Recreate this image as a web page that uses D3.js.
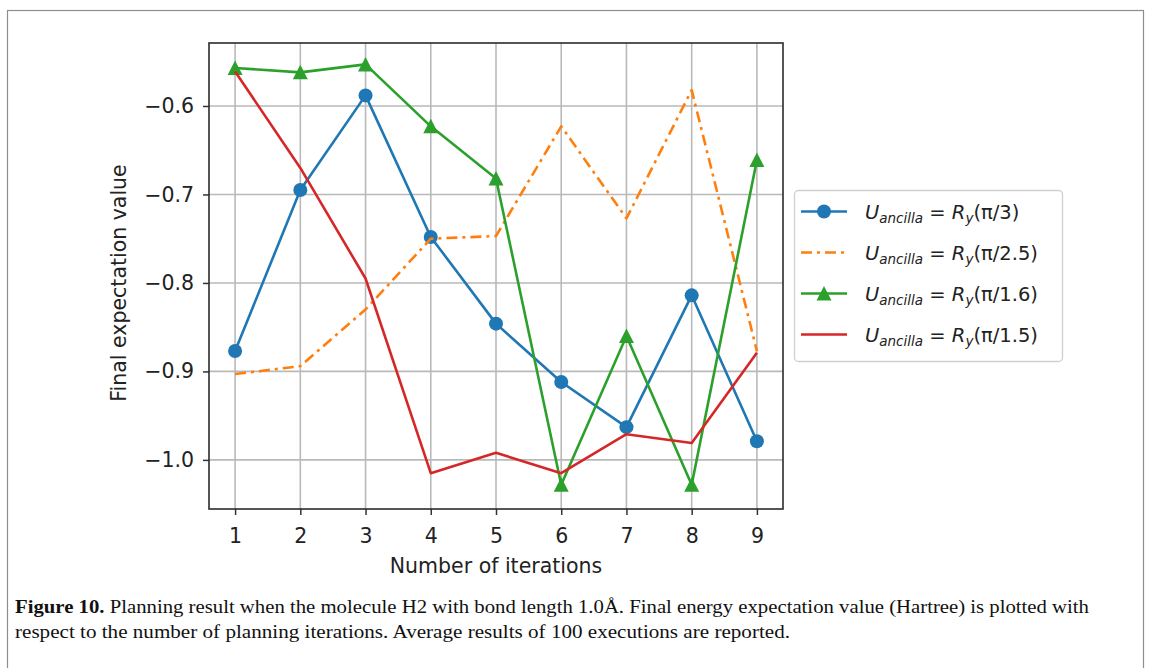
<!DOCTYPE html>
<html>
<head>
<meta charset="utf-8">
<script src="https://cdn.jsdelivr.net/npm/d3@7"></script>
<style>
  html, body { margin: 0; padding: 0; background: #fff; }
  svg { display: block; }
</style>
</head>
<body>
<svg width="1153" height="668"></svg>
<script>
// chart data
const iterations = [1, 2, 3, 4, 5, 6, 7, 8, 9];
const yTicks = [-0.6, -0.7, -0.8, -0.9, -1.0];
const ry3 = [-0.877, -0.695, -0.588, -0.748, -0.846, -0.912, -0.963, -0.814, -0.979];
const ry25 = [-0.903, -0.894, -0.830, -0.750, -0.747, -0.623, -0.727, -0.582, -0.877];
const ry16 = [-0.557, -0.562, -0.553, -0.623, -0.682, -1.028, -0.860, -1.028, -0.661];
const ry15 = [-0.561, -0.670, -0.795, -1.015, -0.992, -1.015, -0.971, -0.981, -0.879];
const seriesArgs = ["π/3", "π/2.5", "π/1.6", "π/1.5"];
const captionLines = [
  ["Figure 10.", " Planning result when the molecule H2 with bond length 1.0Å. Final energy expectation value (Hartree) is plotted with"],
  ["", "respect to the number of planning iterations. Average results of 100 executions are reported."]
];

const series = [
  { values: ry3, arg: seriesArgs[0], color: "#1f77b4", marker: "circle", dash: null },
  { values: ry25, arg: seriesArgs[1], color: "#ff7f0e", marker: null, dash: "11,5,3,5" },
  { values: ry16, arg: seriesArgs[2], color: "#2ca02c", marker: "triangle", dash: null },
  { values: ry15, arg: seriesArgs[3], color: "#d62728", marker: null, dash: null }
];

const svg = d3.select("svg"),
      width = +svg.attr("width"),
      height = +svg.attr("height");

const font = "'DejaVu Sans', sans-serif";
const plot = { left: 209, right: 783, top: 43, bottom: 509 };

svg.append("rect").attr("width", width).attr("height", height).attr("fill", "#fff");

// outer figure frame
svg.append("rect")
    .attr("x", 7.5).attr("y", 10.5)
    .attr("width", 1136).attr("height", 700)
    .attr("fill", "none")
    .attr("stroke", "#8e8e8e")
    .attr("stroke-width", 1.2);

const x = d3.scaleLinear().domain([0.6, 9.4]).range([plot.left, plot.right]);
const y = d3.scaleLinear().domain([-1.0555, -0.5288]).range([plot.bottom, plot.top]);

// grid
const grid = svg.append("g").attr("stroke", "#b9b9b9").attr("stroke-width", 1.6);
grid.selectAll(".gx").data(iterations).enter().append("line")
    .attr("x1", d => x(d)).attr("x2", d => x(d))
    .attr("y1", plot.top).attr("y2", plot.bottom);
grid.selectAll(".gy").data(yTicks).enter().append("line")
    .attr("x1", plot.left).attr("x2", plot.right)
    .attr("y1", d => y(d)).attr("y2", d => y(d));

// axes
const xAxis = svg.append("g")
    .attr("transform", `translate(0,${plot.bottom})`)
    .call(d3.axisBottom(x).tickValues(iterations).tickSize(6).tickPadding(13).tickFormat(d3.format("d")));
const yAxis = svg.append("g")
    .attr("transform", `translate(${plot.left},0)`)
    .call(d3.axisLeft(y).tickValues(yTicks).tickSize(6).tickPadding(9)
        .tickFormat(d => d3.format(".1f")(d).replace("-", "\u2212")));

[xAxis, yAxis].forEach(a => {
    a.select(".domain").remove();
    a.selectAll(".tick line").attr("stroke", "#333").attr("stroke-width", 1.5);
    a.selectAll(".tick text").attr("fill", "#222").style("font-family", font).style("font-size", "20.5px");
});

// series lines
const line = d3.line().x((d, i) => x(iterations[i])).y(d => y(d));
series.forEach(s => {
    svg.append("path")
        .datum(s.values)
        .attr("fill", "none")
        .attr("stroke", s.color)
        .attr("stroke-width", 2.6)
        .attr("stroke-linejoin", "round")
        .attr("stroke-dasharray", s.dash)
        .attr("d", line);

    if (s.marker === "circle") {
        svg.append("g").selectAll("circle").data(s.values).enter().append("circle")
            .attr("cx", (d, i) => x(iterations[i]))
            .attr("cy", d => y(d))
            .attr("r", 7)
            .attr("fill", s.color);
    } else if (s.marker === "triangle") {
        svg.append("g").selectAll("path").data(s.values).enter().append("path")
            .attr("transform", (d, i) => `translate(${x(iterations[i])},${y(d)})`)
            .attr("d", "M0,-7.5L7.5,7L-7.5,7Z")
            .attr("fill", s.color);
    }
});

// plot frame
svg.append("rect")
    .attr("x", plot.left).attr("y", plot.top)
    .attr("width", plot.right - plot.left).attr("height", plot.bottom - plot.top)
    .attr("fill", "none")
    .attr("stroke", "#2b2b2b")
    .attr("stroke-width", 1.6);

// axis labels
svg.append("text")
    .attr("x", (plot.left + plot.right) / 2).attr("y", 573)
    .attr("text-anchor", "middle")
    .attr("fill", "#222")
    .style("font-family", font).style("font-size", "20.5px")
    .text("Number of iterations");

svg.append("text")
    .attr("transform", "translate(126,283) rotate(-90)")
    .attr("text-anchor", "middle")
    .attr("fill", "#222")
    .style("font-family", font).style("font-size", "20.5px")
    .text("Final expectation value");

// legend
const legend = svg.append("g");
legend.append("rect")
    .attr("x", 794.5).attr("y", 190.5)
    .attr("width", 268).attr("height", 171)
    .attr("rx", 4)
    .attr("fill", "#fff")
    .attr("stroke", "#d0d0d0")
    .attr("stroke-width", 1.3);

series.forEach((s, i) => {
    const ly = 211.5 + i * 41;
    legend.append("line")
        .attr("x1", 801).attr("x2", 847)
        .attr("y1", ly).attr("y2", ly)
        .attr("stroke", s.color)
        .attr("stroke-width", 2.6)
        .attr("stroke-dasharray", s.dash);
    if (s.marker === "circle") {
        legend.append("circle").attr("cx", 824).attr("cy", ly).attr("r", 7).attr("fill", s.color);
    } else if (s.marker === "triangle") {
        legend.append("path")
            .attr("transform", `translate(824,${ly})`)
            .attr("d", "M0,-7.5L7.5,7L-7.5,7Z")
            .attr("fill", s.color);
    }

    const t = legend.append("text")
        .attr("x", 865).attr("y", ly + 7)
        .attr("fill", "#222")
        .style("font-family", font).style("font-size", "19.5px");
    t.append("tspan").style("font-style", "italic").text("U");
    t.append("tspan").style("font-style", "italic").style("font-size", "13.5px").attr("dy", 4).text("ancilla");
    t.append("tspan").attr("dy", -4).text(" = ");
    t.append("tspan").style("font-style", "italic").text("R");
    t.append("tspan").style("font-style", "italic").style("font-size", "13.5px").attr("dy", 4).text("y");
    t.append("tspan").attr("dy", -4).text("(" + s.arg + ")");
});

// caption
const capWidths = [1074, 775];
captionLines.forEach((parts, i) => {
    const t = svg.append("text")
        .attr("x", 15).attr("y", 613 + i * 25)
        .attr("fill", "#111")
        .attr("textLength", capWidths[i])
        .attr("lengthAdjust", "spacingAndGlyphs")
        .style("font-family", "'Liberation Serif', serif")
        .style("font-size", "19px");
    if (parts[0]) t.append("tspan").style("font-weight", "bold").text(parts[0]);
    t.append("tspan").text(parts[1]);
});
</script>
</body>
</html>
